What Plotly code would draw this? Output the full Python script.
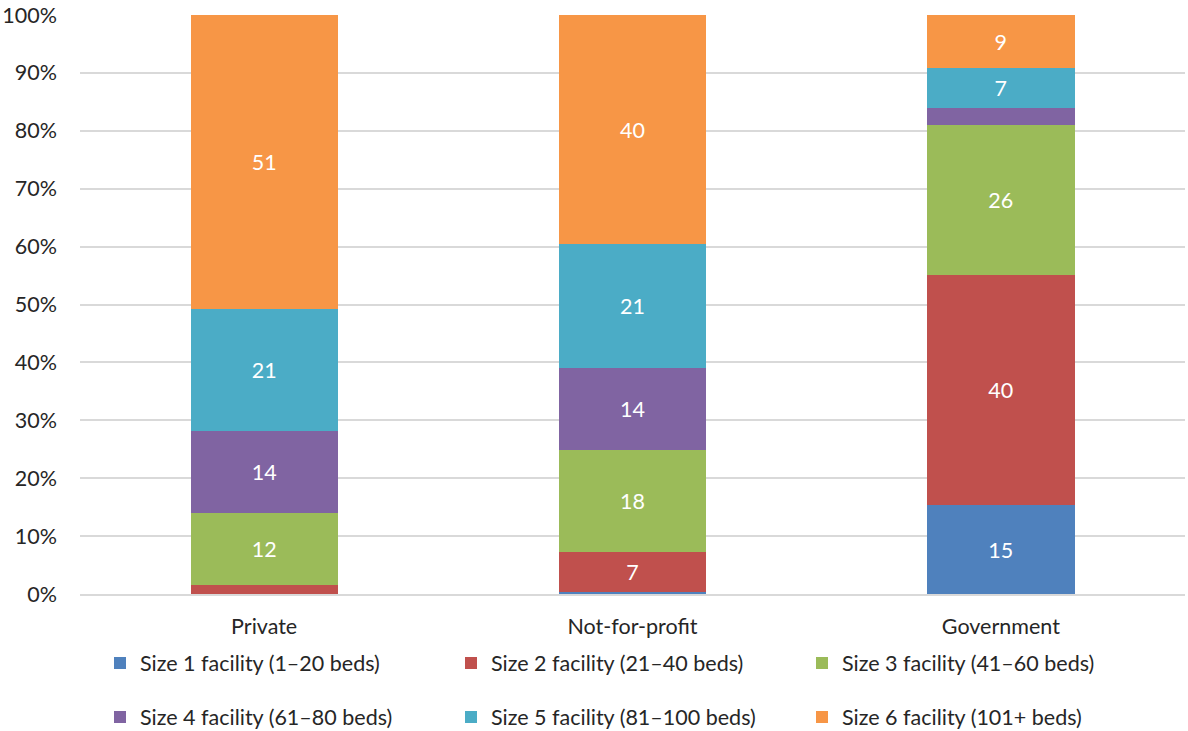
import plotly.graph_objects as go

categories = ["Private", "Not-for-profit", "Government"]
series_names = [
    "Size 1 facility (1–20 beds)",
    "Size 2 facility (21–40 beds)",
    "Size 3 facility (41–60 beds)",
    "Size 4 facility (61–80 beds)",
    "Size 5 facility (81–100 beds)",
    "Size 6 facility (101+ beds)",
]
# Share of facilities (%) by size within each ownership type
size1 = [0.0, 0.3, 15.3]
size2 = [1.6, 6.9, 39.8]
size3 = [12.4, 17.6, 25.9]
size4 = [14.1, 14.2, 2.9]
size5 = [21.1, 21.4, 6.9]
size6 = [50.8, 39.6, 9.2]
series_values = [size1, size2, size3, size4, size5, size6]
colors = ["#4F81BD", "#C0504D", "#9BBB59", "#8064A2", "#4BACC6", "#F79646"]
y_ticks = [0, 10, 20, 30, 40, 50, 60, 70, 80, 90, 100]
y_tick_labels = [f"{t}%" for t in y_ticks]

FONT = "Lato"
FS = 21.5
fig = go.Figure()
for i, (name, vals, col) in enumerate(zip(series_names, series_values, colors)):
    labels = [f"{v:.0f}" if v >= 5 else "" for v in vals]
    fig.add_trace(go.Bar(
        x=categories, y=vals, name=name,
        marker=dict(color=col, line=dict(width=0)),
        text=labels, textposition="inside", insidetextanchor="middle",
        textfont=dict(color="white", size=FS, family=FONT),
        legend="legend" if i < 3 else "legend2",
        hoverinfo="skip",
    ))

legend_common = dict(
    orientation="h", xref="container", yref="container",
    x=100 / 1188, xanchor="left", yanchor="middle",
    entrywidth=306, entrywidthmode="pixels",
    font=dict(size=FS, family=FONT, color="#262626"),
    bgcolor="rgba(0,0,0,0)", itemclick=False, itemdoubleclick=False,
    traceorder="normal",
)
fig.update_layout(
    barmode="stack", bargap=0.6,
    width=1188, height=731,
    margin=dict(l=80, r=3, t=15, b=137),
    plot_bgcolor="white", paper_bgcolor="white",
    font=dict(family=FONT, size=FS, color="#262626"),
    legend=dict(legend_common, y=1 - 663 / 731),
    legend2=dict(legend_common, y=1 - 717 / 731),
    showlegend=True,
    uniformtext=dict(mode=False),
)
fig.update_yaxes(
    range=[0, 100], tickvals=y_ticks, ticktext=y_tick_labels,
    showgrid=True, gridcolor="#D9D9D9", gridwidth=1.5,
    zeroline=False, showline=False, ticks="", ticklen=0,
    ticklabelstandoff=22,
    tickfont=dict(size=FS, family=FONT, color="#262626"),
)
fig.update_xaxes(
    showline=True, linecolor="#D9D9D9", linewidth=1.5,
    ticks="", ticklabelstandoff=12,
    tickfont=dict(size=FS, family=FONT, color="#262626"),
)
fig.write_html("out.html")
